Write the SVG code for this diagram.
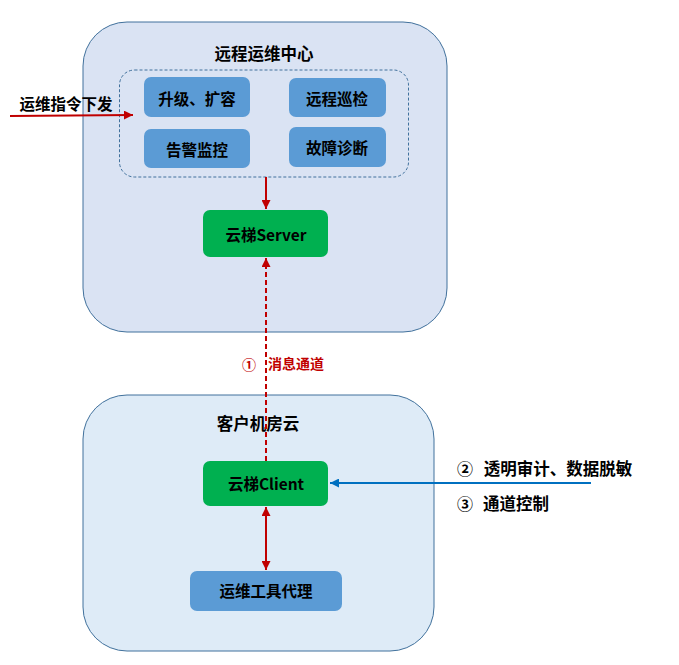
<svg xmlns="http://www.w3.org/2000/svg" width="679" height="665" viewBox="0 0 679 665">
<style>
.t{font-family:"Noto Sans CJK SC","Liberation Sans",sans-serif;font-weight:bold;fill:#000;dominant-baseline:central;text-anchor:middle}
.box{fill:#5b9bd5}
.green{fill:#00b050}
.red{stroke:#c00000;stroke-width:2;fill:none}
.rt{fill:#c00000}
</style>
<defs>
<marker id="ar" viewBox="0 0 10 10" refX="10" refY="5" markerWidth="9" markerHeight="9" markerUnits="userSpaceOnUse" orient="auto-start-reverse"><path d="M0,0 L10,5 L0,10 z" fill="#c00000"/></marker>
<marker id="ab" viewBox="0 0 10 10" refX="10" refY="5" markerWidth="9" markerHeight="9" markerUnits="userSpaceOnUse" orient="auto"><path d="M0,0 L10,5 L0,10 z" fill="#0070c0"/></marker>
</defs>
<rect width="679" height="665" fill="#fff"/>
<g id="center">
<rect x="83" y="22" width="364" height="310" rx="44" fill="#dae3f3" stroke="#41719c" stroke-width="1"/>
<text class="t" x="264" y="53" font-size="16.5">远程运维中心</text>
</g>
<g id="cloud">
<rect x="83" y="395" width="351" height="256" rx="44" fill="#deebf7" stroke="#41719c" stroke-width="1"/>
<text class="t" x="258" y="423" font-size="16.5">客户机房云</text>
</g>
<g id="group">
<rect x="119.5" y="70" width="289" height="107" rx="15" fill="none" stroke="#41719c" stroke-width="1" stroke-dasharray="3,2"/>
</g>
<g id="upgrade"><rect class="box" x="144" y="77" width="106" height="40" rx="7"/><text class="t" x="197" y="98" font-size="15.5">升级、扩容</text></g>
<g id="inspect"><rect class="box" x="289" y="78" width="97" height="39" rx="7"/><text class="t" x="337" y="98" font-size="15.5">远程巡检</text></g>
<g id="alarm"><rect class="box" x="144" y="129" width="106" height="39" rx="7"/><text class="t" x="197" y="149" font-size="15.5">告警监控</text></g>
<g id="diag"><rect class="box" x="289" y="127" width="97" height="40" rx="7"/><text class="t" x="337" y="147" font-size="15.5">故障诊断</text></g>
<g id="server"><rect class="green" x="203" y="210" width="125" height="47" rx="7"/><text class="t" x="266" y="234" font-size="15.5">云梯Server</text></g>
<g id="client"><rect class="green" x="203" y="461" width="125" height="45" rx="7"/><text class="t" x="266" y="483" font-size="15.5">云梯Client</text></g>
<g id="proxy"><rect class="box" x="190" y="571" width="152" height="40" rx="7"/><text class="t" x="266" y="590" font-size="15.5">运维工具代理</text></g>
<g id="connectors">
<line class="red" x1="10" y1="116" x2="133" y2="115" marker-end="url(#ar)"/>
<line class="red" x1="266" y1="177" x2="266" y2="209" marker-end="url(#ar)"/>
<line class="red" x1="266" y1="461" x2="266" y2="258" stroke-dasharray="5,3" marker-end="url(#ar)"/>
<line class="red" x1="266" y1="507" x2="266" y2="570" marker-start="url(#ar)" marker-end="url(#ar)"/>
<line x1="591" y1="483" x2="330" y2="483" stroke="#0070c0" stroke-width="2" marker-end="url(#ab)"/>
</g>
<g id="labels">
<text class="t" x="66" y="103" font-size="15.5">运维指令下发</text>
<text class="t rt" x="249" y="364" font-size="14">①</text>
<text class="t rt" x="296" y="363" font-size="14">消息通道</text>
<text class="t" x="465" y="468" font-size="16">②</text>
<text class="t" x="558" y="468" font-size="16.5">透明审计、数据脱敏</text>
<text class="t" x="465" y="503" font-size="16">③</text>
<text class="t" x="516" y="503" font-size="16.5">通道控制</text>
</g>
</svg>
